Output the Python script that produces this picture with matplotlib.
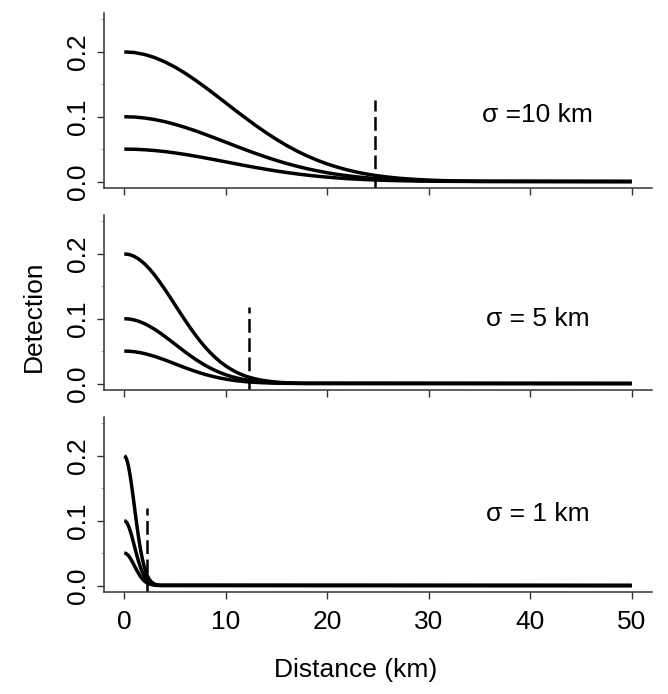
import matplotlib
matplotlib.use("Agg")
import matplotlib.pyplot as plt
from matplotlib.ticker import MultipleLocator

plt.rcParams['font.family'] = ['Liberation Sans', 'DejaVu Sans']

# Distances sampled along each panel's curves (km)
dist_sigma10 = [0, 1, 2, 3, 4, 5, 6, 7, 8, 9, 10, 11, 12, 13, 14, 15, 16, 17, 18,
                19, 20, 21, 22, 23, 24, 25, 26, 27, 28, 29, 30, 31, 32, 33, 34, 35, 36, 50]
dist_sigma5 = [0, 0.5, 1, 1.5, 2, 2.5, 3, 3.5, 4, 4.5, 5, 5.5, 6, 6.5, 7, 7.5, 8, 8.5, 9,
               9.5, 10, 10.5, 11, 11.5, 12, 12.5, 13, 13.5, 14, 14.5, 15, 15.5, 16, 16.5,
               17, 17.5, 18, 50]
dist_sigma1 = [0, 0.1, 0.2, 0.3, 0.4, 0.5, 0.6, 0.7, 0.8, 0.9, 1.0, 1.1, 1.2, 1.3, 1.4,
               1.5, 1.6, 1.7, 1.8, 1.9, 2.0, 2.1, 2.2, 2.3, 2.4, 2.5, 2.6, 2.7, 2.8, 2.9,
               3.0, 3.1, 3.2, 3.3, 3.4, 3.5, 3.6, 50]

# Detection values read at those distances (same relative positions in each panel)
det_g020 = [0.2000, 0.1990, 0.1960, 0.1912, 0.1846, 0.1765, 0.1671, 0.1565, 0.1452,
            0.1334, 0.1213, 0.1092, 0.0974, 0.0859, 0.0751, 0.0649, 0.0556, 0.0471,
            0.0396, 0.0329, 0.0271, 0.0221, 0.0178, 0.0142, 0.0112, 0.0088, 0.0068,
            0.0052, 0.0040, 0.0030, 0.0022, 0.0016, 0.0012, 0.0009, 0.0006, 0.0004,
            0.0003, 0.0]
det_g010 = [0.1000, 0.0995, 0.0980, 0.0956, 0.0923, 0.0882, 0.0835, 0.0783, 0.0726,
            0.0667, 0.0607, 0.0546, 0.0487, 0.0430, 0.0375, 0.0325, 0.0278, 0.0236,
            0.0198, 0.0165, 0.0135, 0.0110, 0.0089, 0.0071, 0.0056, 0.0044, 0.0034,
            0.0026, 0.0020, 0.0015, 0.0011, 0.0008, 0.0006, 0.0004, 0.0003, 0.0002,
            0.0002, 0.0]
det_g005 = [0.0500, 0.0498, 0.0490, 0.0478, 0.0462, 0.0441, 0.0418, 0.0391, 0.0363,
            0.0334, 0.0303, 0.0273, 0.0243, 0.0215, 0.0188, 0.0162, 0.0139, 0.0118,
            0.0099, 0.0082, 0.0068, 0.0055, 0.0044, 0.0036, 0.0028, 0.0022, 0.0017,
            0.0013, 0.0010, 0.0007, 0.0006, 0.0004, 0.0003, 0.0002, 0.0002, 0.0001,
            0.0001, 0.0]

panel_labels = ["σ =10 km", "σ = 5 km", "σ = 1 km"]
panel_dists = [dist_sigma10, dist_sigma5, dist_sigma1]
cutoff_x = [24.7, 12.3, 2.2]
cutoff_top = [0.125, 0.118, 0.12]
label_y = [0.103, 0.10, 0.11]

x_ticks = [0, 10, 20, 30, 40, 50]
y_ticks = [0.0, 0.1, 0.2]
y_ticklabels = ["0.0", "0.1", "0.2"]

fig = plt.figure(figsize=(6.68, 6.94), dpi=100)
W, H = 668, 694
left_px, right_px = 104, 652
tops = [13, 215, 417]
bottoms = [188, 390, 592]
axcol = "#333333"
fs = 19

for i in range(3):
    ax = fig.add_axes([left_px / W, 1 - bottoms[i] / H,
                       (right_px - left_px) / W, (bottoms[i] - tops[i]) / H])
    d = panel_dists[i]
    for vals in (det_g020, det_g010, det_g005):
        ax.plot(d, vals, color="black", lw=2.5, solid_capstyle="butt")
    ax.plot([cutoff_x[i], cutoff_x[i]], [-0.01, cutoff_top[i]], color="black",
            lw=1.8, dashes=(5.5, 2.2))
    ax.text(40.7, label_y[i], panel_labels[i], fontsize=fs, ha="center", va="center")
    ax.set_xlim(-2, 52)
    ax.set_ylim(-0.01, 0.26)
    for s in ("top", "right"):
        ax.spines[s].set_visible(False)
    for s in ("left", "bottom"):
        ax.spines[s].set_color(axcol)
        ax.spines[s].set_linewidth(1.1)
    ax.set_xticks(x_ticks)
    ax.set_yticks(y_ticks)
    ax.set_yticklabels(y_ticklabels, rotation=90, va="center")
    ax.yaxis.set_minor_locator(MultipleLocator(0.05))
    ax.tick_params(axis="y", which="minor", length=2, width=0.6, color="#999999")
    ax.tick_params(axis="both", which="major", length=5, width=1.0, color=axcol,
                   labelsize=fs, direction="out")
    ax.tick_params(axis="y", which="major", pad=5)
    ax.tick_params(axis="x", which="major", pad=8)
    if i < 2:
        ax.tick_params(axis="x", labelbottom=False)

fig.text(34 / W, 1 - 316 / H, "Detection", rotation=90, fontsize=fs,
         ha="center", va="center")
fig.text(356 / W, 1 - 670 / H, "Distance (km)", fontsize=fs, ha="center", va="center")

fig.savefig("out.png", dpi=100)
